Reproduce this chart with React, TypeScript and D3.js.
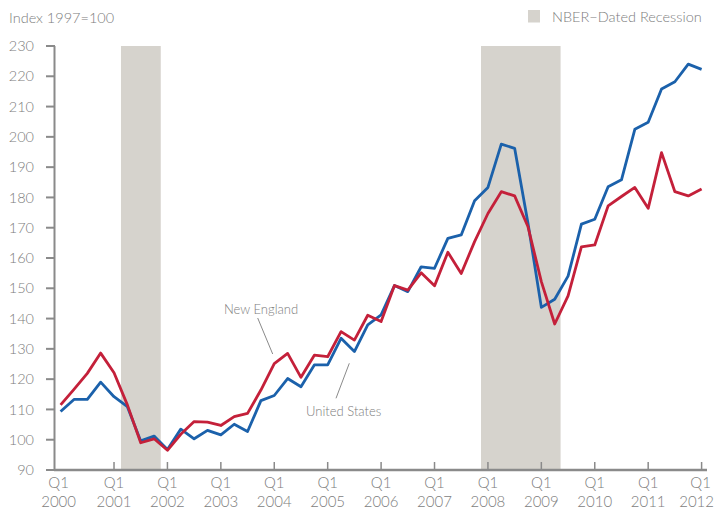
import React from "react";
import * as d3 from "d3";

// Quarterly, 2000Q1 .. 2012Q1
const startYear = 2000;
const newEngland = [
  111.5, 116.6, 121.9, 128.6, 122.1, 111.5, 99.0, 100.3, 96.5, 101.8, 106.0, 105.8, 104.7, 107.6, 108.7, 116.4,
  125.1, 128.5, 120.6, 127.9, 127.4, 135.7, 132.9, 141.1, 139.0, 150.9, 149.4, 155.1, 150.8, 161.9, 154.9, 165.4,
  174.7, 181.9, 180.5, 170.3, 152.2, 138.2, 147.5, 163.7, 164.3, 177.2, 180.3, 183.3, 176.4, 194.8, 181.9, 180.5,
  182.8,
];
const unitedStates = [
  109.3, 113.3, 113.3, 119.0, 114.2, 110.9, 99.6, 101.2, 96.8, 103.5, 100.3, 103.1, 101.6, 105.1, 102.7, 112.9,
  114.6, 120.2, 117.5, 124.7, 124.7, 133.5, 129.1, 137.9, 141.2, 150.9, 148.9, 157.1, 156.6, 166.5, 167.6, 178.9,
  183.3, 197.6, 196.2, 171.5, 143.7, 146.4, 154.0, 171.2, 172.8, 183.5, 185.8, 202.5, 204.8, 215.8, 218.2, 224.0,
  222.3,
];
const recessions: [number, number][] = [
  [2001.13, 2001.875],
  [2007.87, 2009.36],
];
const yTicks = d3.range(90, 231, 10);
const xTickYears = d3.range(2001, 2013);
const xLabelYears = d3.range(2000, 2013);

const W = 715;
const H = 514;
const RED = "#c4203a";
const BLUE = "#1b61ab";
const GRAY = "#8a8a8a";
const TEXT = "#7d7d7d";
const REC = "#d6d3cd";
const FONT = "Lato, 'Open Sans', sans-serif";

export default function App() {
  const x = d3.scaleLinear().domain([2000, 2012]).range([60.6, 701.6]);
  const y = d3.scaleLinear().domain([90, 230]).range([470, 46]);
  const t = (i: number) => startYear + i / 4;
  const line = d3
    .line<number>()
    .x((_, i) => x(t(i)))
    .y((d) => y(d));

  return (
    <svg
      width={W}
      height={H}
      style={{ position: "absolute", left: 0, top: 0, display: "block", background: "#fff" }}
      fontFamily={FONT}
      fontWeight={300}
    >
      {/* header */}
      <text x={9} y={23} fontSize={14.5} fill={TEXT}>
        Index 1997=100
      </text>
      <rect x={528} y={10} width={12} height={12.5} fill={REC} />
      <text x={552} y={22} fontSize={14.5} fill={TEXT}>
        NBER−Dated Recession
      </text>

      {/* recession bars */}
      {recessions.map(([a, b], i) => (
        <rect key={i} x={x(a)} y={y(230)} width={x(b) - x(a)} height={y(90) - y(230)} fill={REC} />
      ))}

      {/* y axis */}
      <line x1={54.5} x2={54.5} y1={y(230)} y2={y(90)} stroke={GRAY} strokeWidth={2} />
      {yTicks.map((v) => (
        <g key={v}>
          <line x1={46} x2={55} y1={y(v)} y2={y(v)} stroke={GRAY} strokeWidth={2} />
          <text x={34} y={y(v)} dy="0.35em" textAnchor="end" fontSize={14.5} fill={TEXT}>
            {v}
          </text>
        </g>
      ))}

      {/* x axis */}
      <line x1={54} x2={707} y1={470} y2={470} stroke={GRAY} strokeWidth={2.5} />
      {xTickYears.map((yr) => (
        <line key={yr} x1={x(yr)} x2={x(yr)} y1={462} y2={470} stroke={GRAY} strokeWidth={1.5} />
      ))}
      {xLabelYears.map((yr) => {
        const last = yr === 2012;
        const cx = x(yr) + (yr === 2000 ? -2 : 0);
        return (
          <g key={yr}>
            <text x={last ? cx - 1 : cx} y={488} textAnchor="middle" fontSize={15} fill={TEXT}>
              Q1
            </text>
            <text x={last ? cx - 5 : cx} y={507} textAnchor="middle" fontSize={15} fill={TEXT}>
              {yr}
            </text>
          </g>
        );
      })}

      {/* series */}
      <path d={line(unitedStates) || ""} fill="none" stroke={BLUE} strokeWidth={2.8} strokeLinejoin="round" />
      <path d={line(newEngland) || ""} fill="none" stroke={RED} strokeWidth={2.8} strokeLinejoin="round" />

      {/* annotations */}
      <text x={224} y={314} fontSize={13} fill={TEXT}>
        New England
      </text>
      <line x1={257.7} y1={318} x2={272.7} y2={354} stroke={GRAY} strokeWidth={1} />
      <text x={306} y={416} fontSize={13} fill={TEXT}>
        United States
      </text>
      <line x1={349.3} y1={363.3} x2={336} y2={398.3} stroke={GRAY} strokeWidth={1} />
    </svg>
  );
}
